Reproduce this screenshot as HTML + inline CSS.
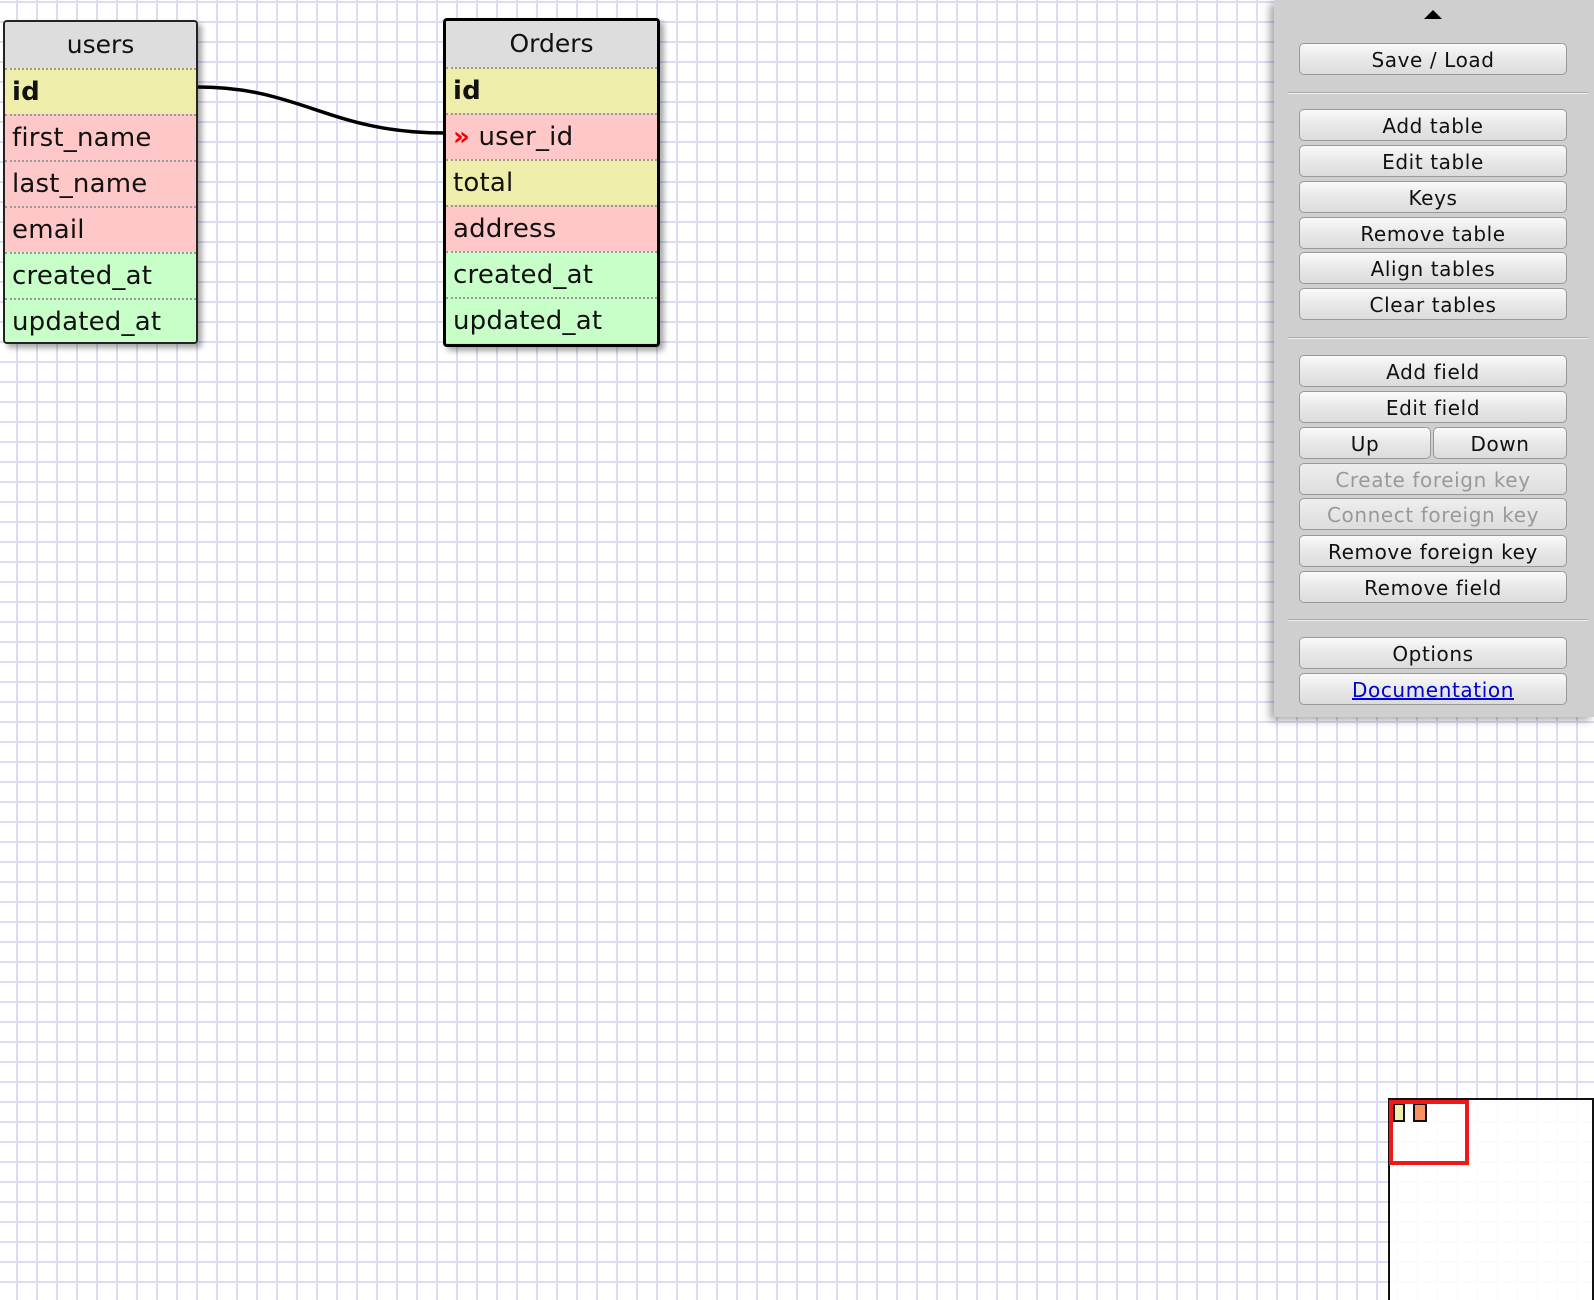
<!DOCTYPE html>
<html><head><meta charset="utf-8"><style>
*{box-sizing:border-box;margin:0;padding:0}
body{width:1594px;height:1300px;overflow:hidden;position:relative;background-color:#fff;
background-image:linear-gradient(to right,#dcdcf4 2px,transparent 2px),linear-gradient(to bottom,#dcdcf4 2px,transparent 2px);
background-size:20px 20px;background-position:16px 1px;font-family:"DejaVu Sans","Liberation Sans",sans-serif}
.tbl{position:absolute;border:2px solid #222;border-radius:4px;overflow:hidden;box-shadow:4px 4px 6px rgba(0,0,0,.35);background:#ddd}
.tbl.sel{border:3px solid #000}
.hd{height:46px;background:#ddd;text-align:center;font-size:25px;line-height:46px;color:#111}
.r{height:46px;border-top:2px dotted #999;font-size:26px;line-height:44px;padding-left:7px;color:#111;white-space:nowrap;letter-spacing:.2px}
.y{background:#eeeeaa}.p{background:#ffc8c8}.g{background:#c8ffc8}
.b{font-weight:bold}
#side{position:absolute;left:1274px;top:0;width:320px;height:717px;background:#cfcfcf;box-shadow:-4px 3px 8px rgba(0,0,0,.35)}
.btn{position:absolute;left:25px;width:268px;height:32px;border:1px solid #999;border-radius:5px;background:linear-gradient(#fafafa,#e8e8e8 50%,#dcdcdc);text-align:center;font-size:20px;line-height:32px;color:#111;letter-spacing:.6px}
.dis{color:#999;background:linear-gradient(#eee,#ddd)}
.sep{position:absolute;left:14px;width:300px;height:2px;border-top:1px solid #aaa;border-bottom:1px solid #eee}
</style></head><body>
<svg style="position:absolute;left:0;top:0" width="600" height="200"><path d="M198 87 C300 87 330 133 444 133" fill="none" stroke="#000" stroke-width="3.5"/></svg>
<div class="tbl" style="left:3px;top:20px;width:195px;height:324px">
<div class="hd">users</div>
<div class="r y b">id</div><div class="r p">first_name</div><div class="r p">last_name</div><div class="r p">email</div><div class="r g">created_at</div><div class="r g">updated_at</div>
</div>
<div class="tbl sel" style="left:443px;top:18px;width:217px;height:329px">
<div class="hd">Orders</div>
<div class="r y b">id</div><div class="r p"><span style="color:#e00;font-weight:bold">»</span> user_id</div><div class="r y">total</div><div class="r p">address</div><div class="r g">created_at</div><div class="r g">updated_at</div>
</div>
<div id="side">
<div style="position:absolute;left:150px;top:10px;width:0;height:0;border-left:9px solid transparent;border-right:9px solid transparent;border-bottom:9px solid #000"></div>
<div class="btn" style="top:43px">Save / Load</div>
<div class="sep" style="top:92px"></div>
<div class="btn" style="top:109px">Add table</div>
<div class="btn" style="top:145px">Edit table</div>
<div class="btn" style="top:181px">Keys</div>
<div class="btn" style="top:217px">Remove table</div>
<div class="btn" style="top:252px">Align tables</div>
<div class="btn" style="top:288px">Clear tables</div>
<div class="sep" style="top:337px"></div>
<div class="btn" style="top:355px">Add field</div>
<div class="btn" style="top:391px">Edit field</div>
<div class="btn" style="top:427px;width:132px">Up</div>
<div class="btn" style="top:427px;left:159px;width:134px">Down</div>
<div class="btn dis" style="top:463px">Create foreign key</div>
<div class="btn dis" style="top:498px">Connect foreign key</div>
<div class="btn" style="top:535px">Remove foreign key</div>
<div class="btn" style="top:571px">Remove field</div>
<div class="sep" style="top:619px"></div>
<div class="btn" style="top:637px">Options</div>
<div class="btn" style="top:673px"><span style="color:#00c;text-decoration:underline">Documentation</span></div>
</div>
<div style="position:absolute;left:1388px;top:1098px;width:206px;height:202px;background:rgba(255,255,255,.9);border:2px solid #111;border-bottom:none"></div>
<div style="position:absolute;left:1393px;top:1103px;width:12px;height:19px;background:#eeeeaa;border:2px solid #111"></div>
<div style="position:absolute;left:1413px;top:1103px;width:14px;height:19px;background:#f89060;border:2px solid #111"></div>
<div style="position:absolute;left:1389px;top:1100px;width:80px;height:65px;border:4px solid #f01818"></div>
</body></html>
